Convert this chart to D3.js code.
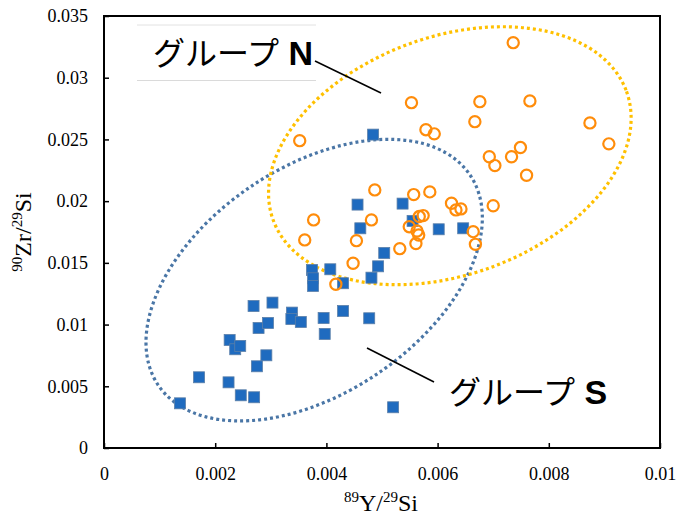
<!DOCTYPE html>
<html><head><meta charset="utf-8">
<script src="https://cdn.jsdelivr.net/npm/d3@7"></script>
<style>body{margin:0;background:#fff}svg{display:block}
.tick text{font-family:'Liberation Serif','Times New Roman',serif !important;font-size:18px !important;fill:#000}</style>
</head><body>
<svg id="c" width="678" height="515"></svg>
<script>
// Group N (orange open circles)
const groupNx = [7.36,5.53,6.76,7.66,6.67,8.74,5.79,5.94,9.08,3.52,6.93,7.03,7.33,7.49,7.60,7.00,4.87,5.57,5.86,4.81,4.54,5.32,6.25,6.33,6.42,6.64,6.68,5.67,5.74,5.49,5.63,5.66,5.61,3.77,3.61,4.48,4.17].map(v=>v/1000);
const groupNy = [32.84,27.98,28.06,28.12,26.44,26.34,25.79,25.45,24.64,24.9,23.6,22.88,23.6,24.34,22.1,19.63,20.91,20.53,20.75,18.48,16.8,16.15,19.83,19.29,19.37,17.53,16.5,18.75,18.83,17.93,17.58,17.26,16.56,18.48,16.86,14.97,13.27].map(v=>v/1000);
// Group S (blue squares)
const groupSx = [1.367,1.71,2.24,2.46,2.70,2.75,2.92,2.26,2.36,2.45,2.69,3.03,2.78,2.95,3.38,3.37,3.54,3.95,3.97,3.74,3.76,3.76,4.07,4.30,4.30,4.77,4.56,5.37,5.55,6.02,6.46,4.61,5.04,4.93,4.81,4.84,5.20].map(v=>v/1000);
const groupSy = [3.62,5.73,5.32,4.27,4.11,6.62,7.51,8.75,8.0,8.27,11.5,11.78,9.72,10.13,10.97,10.45,10.21,10.53,9.24,14.42,13.75,13.13,14.48,13.35,11.1,10.51,19.72,19.8,18.4,17.72,17.8,17.8,15.8,14.72,13.8,25.39,3.30].map(v=>v/1000);
const xTicks = [0,0.002,0.004,0.006,0.008,0.01];
const yTicks = [0,0.005,0.01,0.015,0.02,0.025,0.03,0.035];
const xTickLabels = ["0","0.002","0.004","0.006","0.008","0.01"];
const yTickLabels = ["0","0.005","0.01","0.015","0.02","0.025","0.03","0.035"];
const labelN = "グループ", letterN = "N", letterS = "S";

const svg = d3.select("#c");
const L=104, R=660, T=16, B=448;
const x = d3.scaleLinear().domain([0,0.01]).range([L,R]);
const y = d3.scaleLinear().domain([0,0.035]).range([B,T]);

// ellipses (annotation): center in data units, semi-axes in px, rotation deg
const ellN = {cx:0.00622, cy:0.02368, a:188, b:119, rot:-20, color:"#FFC000"};
const ellS = {cx:0.00378, cy:0.01360, a:188, b:113, rot:-34, color:"#4A76A6"};

// axes
const gx = svg.append("g").attr("transform",`translate(0,${B})`)
  .call(d3.axisBottom(x).tickValues(xTicks).tickSize(-5).tickPadding(19).tickFormat((d,i)=>xTickLabels[i]));
const gy = svg.append("g").attr("transform",`translate(${L},0)`)
  .call(d3.axisLeft(y).tickValues(yTicks).tickSize(-5).tickPadding(16).tickFormat((d,i)=>yTickLabels[i]));
[gx,gy].forEach(g=>{
  g.attr("font-family",null).attr("font-size",null);
  g.select(".domain").remove();
  g.selectAll(".tick line").attr("stroke","#000").attr("stroke-width",1.5);
});
svg.append("rect").attr("x",L).attr("y",T).attr("width",R-L).attr("height",B-T)
  .attr("fill","none").attr("stroke","#000").attr("stroke-width",2);

// ellipses
[ellS, ellN].forEach(e=>{
  svg.append("ellipse").attr("cx",0).attr("cy",0).attr("rx",e.a).attr("ry",e.b)
    .attr("transform",`translate(${x(e.cx)},${y(e.cy)}) rotate(${e.rot})`)
    .attr("fill","none").attr("stroke",e.color).attr("stroke-width",3.2)
    .attr("stroke-dasharray","3 3");
});

// data
const dS = groupSx.map((v,i)=>[v,groupSy[i]]);
const dN = groupNx.map((v,i)=>[v,groupNy[i]]);
svg.append("g").selectAll("rect").data(dS).join("rect")
  .attr("x",d=>x(d[0])-5.5).attr("y",d=>y(d[1])-5.5).attr("width",11).attr("height",11)
  .attr("fill","#1F6BBF").attr("stroke","#5B7FA8").attr("stroke-width",0.8);
svg.append("g").selectAll("circle").data(dN).join("circle")
  .attr("cx",d=>x(d[0])).attr("cy",d=>y(d[1])).attr("r",5.6)
  .attr("fill","none").attr("stroke","#FF8C0A").attr("stroke-width",2.2);

// label N with box lines
svg.append("line").attr("x1",137).attr("x2",316).attr("y1",25).attr("y2",25).attr("stroke","#e2e2e2").attr("stroke-width",1);
svg.append("line").attr("x1",137).attr("x2",316).attr("y1",80.5).attr("y2",80.5).attr("stroke","#dadada").attr("stroke-width",1);
svg.append("line").attr("x1",315).attr("y1",61).attr("x2",381).attr("y2",93).attr("stroke","#000").attr("stroke-width",1.6);
svg.append("line").attr("x1",367).attr("y1",348).attr("x2",434).attr("y2",382).attr("stroke","#000").attr("stroke-width",1.6);

function groupLabel(xp, yp, letter){
  const t = svg.append("text").attr("x",xp).attr("y",yp).attr("fill","#000");
  t.append("tspan").text(labelN).attr("font-family","'Noto Sans CJK JP'").attr("font-weight",400).attr("font-size",32);
  t.append("tspan").text(" "+letter).attr("font-family","'Liberation Sans',Arial,sans-serif").attr("font-weight","bold").attr("font-size",34);
}
groupLabel(153, 65, letterN);
groupLabel(449, 404, letterS);

// axis titles
const serif = "'Liberation Serif','Times New Roman',serif";
const xt = svg.append("text").attr("x",381).attr("y",511).attr("text-anchor","middle")
  .attr("font-family",serif).attr("font-size",24).attr("fill","#000");
xt.append("tspan").text("89").attr("font-size",15).attr("dy",-9);
xt.append("tspan").text("Y/").attr("font-size",24).attr("dy",9);
xt.append("tspan").text("29").attr("font-size",15).attr("dy",-9);
xt.append("tspan").text("Si").attr("font-size",24).attr("dy",9);

const yt = svg.append("text").attr("transform","translate(31,232) rotate(-90)").attr("text-anchor","middle")
  .attr("font-family",serif).attr("font-size",24).attr("fill","#000");
yt.append("tspan").text("90").attr("font-size",15).attr("dy",-9);
yt.append("tspan").text("Zr/").attr("font-size",24).attr("dy",9);
yt.append("tspan").text("29").attr("font-size",15).attr("dy",-9);
yt.append("tspan").text("Si").attr("font-size",24).attr("dy",9);
</script>
</body></html>
